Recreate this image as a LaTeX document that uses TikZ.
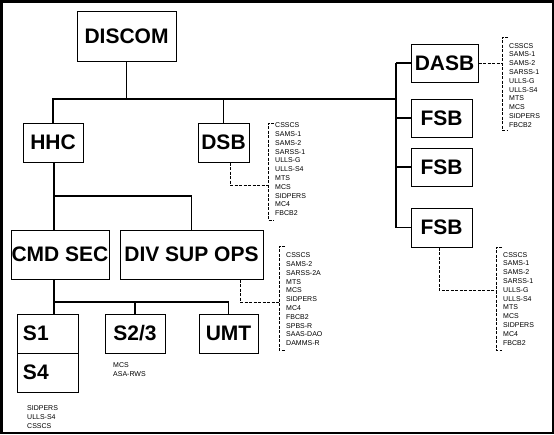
\documentclass[tikz,border=0pt]{standalone}
\usepackage{fontspec}
\setmainfont{Liberation Sans}
\usetikzlibrary{calc}
\tikzset{
  unit/.style={draw, line width=1pt, inner sep=0pt, font=\bfseries\fontsize{21}{21}\selectfont},
  link/.style={line width=1.3pt},
  tap/.style={line width=1pt, dash pattern=on 3pt off 1.5pt},
  syslist/.style={anchor=north west, align=left, inner sep=0pt, font=\fontsize{7}{8.8}\selectfont}
}
\newcommand{\orgbox}[5][]{\node[unit, #1, minimum width={#4-#2}, minimum height={#5-#3}] at ({(#2+#4)/2}, {(#3+#5)/2})}
\newcommand{\syslist}[6]{\node[syslist] (#1) at (#2 + 7, #5) {#6}; \draw[tap] (#2 + 6, #3) -- (#2, #3) -- (#2, #4) -- (#2 + 6, #4);}

\begin{document}
\begin{tikzpicture}[x=1pt, y=-1pt]
    \useasboundingbox (0,0) rectangle (554,434);
    \draw[line width=2.5pt] (1.25,1.25) rectangle (552.75,432.75);
    % top
    \orgbox{77}{11}{176}{61} (DISCOM) {DISCOM};
    \orgbox{23}{123}{83}{162} (HHC) {HHC};
    \orgbox{198}{123}{249}{162} (DSB) {DSB};
    % right column
    \orgbox{411}{44}{478}{82} (DASB) {DASB};
    \orgbox{411}{99}{472}{137} (FSB1) {FSB};
    \orgbox{411}{148}{472}{186} (FSB2) {FSB};
    \orgbox{411}{208}{472}{247} (FSB3) {FSB};
    % hhc
    \orgbox{11}{230}{109}{279} (CMDSEC) {CMD SEC};
    \orgbox{120}{230}{263}{279} (DIVSUP) {DIV SUP OPS};
    % staff
    \orgbox[align=left, text width=49pt, inner xsep=6pt]{17}{314}{78}{353} (S1) {S1};
    \orgbox[align=left, text width=49pt, inner xsep=6pt]{17}{353}{78}{392} (S4) {S4};
    \orgbox{105}{314}{165}{353} (S23) {S2/3};
    \orgbox{199}{314}{258}{353} (UMT) {UMT};
    % links
    \coordinate (busR) at (396,99);
    \draw[link] (DISCOM) -- (DISCOM |- busR);
    \draw[link] (HHC) |- (busR);
    \draw[link] (DSB) -- (DSB |- busR);
    \draw[link] (DASB.west -| busR) -- (FSB3.west -| busR);
    \draw[link] (DASB) -- (DASB.west -| busR);
    \draw[link] (FSB1) -- (FSB1.west -| busR);
    \draw[link] (FSB2) -- (FSB2.west -| busR);
    \draw[link] (FSB3) -- (FSB3.west -| busR);
    \coordinate (hhcjoin) at (54,196);
    \draw[link] (hhcjoin |- HHC.south) -- (hhcjoin |- CMDSEC.north);
    \draw[link] (hhcjoin) -| (DIVSUP);
    \coordinate (cmdjoin) at (54,302);
    \draw[link] (cmdjoin |- CMDSEC.south) -- (cmdjoin |- S1.north);
    \draw[link] (cmdjoin) -| (UMT);
    \draw[link] (S23) -- (S23 |- cmdjoin);
    % systems
    \coordinate (dsbtap) at (268,185);
    \coordinate (dasbtap) at (502,63);
    \coordinate (divtap) at (279,302);
    \coordinate (fsbtap) at (496,290);
    \draw[tap] ([xshift=6.5pt]DSB.south) |- (dsbtap);
    \draw[tap] (DASB) -- (dasbtap);
    \draw[tap] ([xshift=48.5pt]DIVSUP.south) |- (divtap);
    \draw[tap] ([xshift=-2.5pt]FSB3.south) |- (fsbtap);
    \syslist{dsblist}{268}{123}{220}{122.7}{CSSCS\\SAMS-1\\SAMS-2\\SARSS-1\\ULLS-G\\ULLS-S4\\MTS\\MCS\\SIDPERS\\MC4\\FBCB2}
    \syslist{dasblist}{502}{37}{130}{43}{CSSCS\\SAMS-1\\SAMS-2\\SARSS-1\\ULLS-G\\ULLS-S4\\MTS\\MCS\\SIDPERS\\FBCB2}
    \syslist{divlist}{279}{246}{350}{252.7}{CSSCS\\SAMS-2\\SARSS-2A\\MTS\\MCS\\SIDPERS\\MC4\\FBCB2\\SPBS-R\\SAAS-DAO\\DAMMS-R}
    \syslist{fsblist}{496}{247}{350}{252}{CSSCS\\SAMS-1\\SAMS-2\\SARSS-1\\ULLS-G\\ULLS-S4\\MTS\\MCS\\SIDPERS\\MC4\\FBCB2}
    \node[syslist] (s23list) at (113,362.5) {MCS\\ASA-RWS};
    \node[syslist] (s1list) at (27,405.5) {SIDPERS\\ULLS-S4\\CSSCS};
\end{tikzpicture}
\end{document}
